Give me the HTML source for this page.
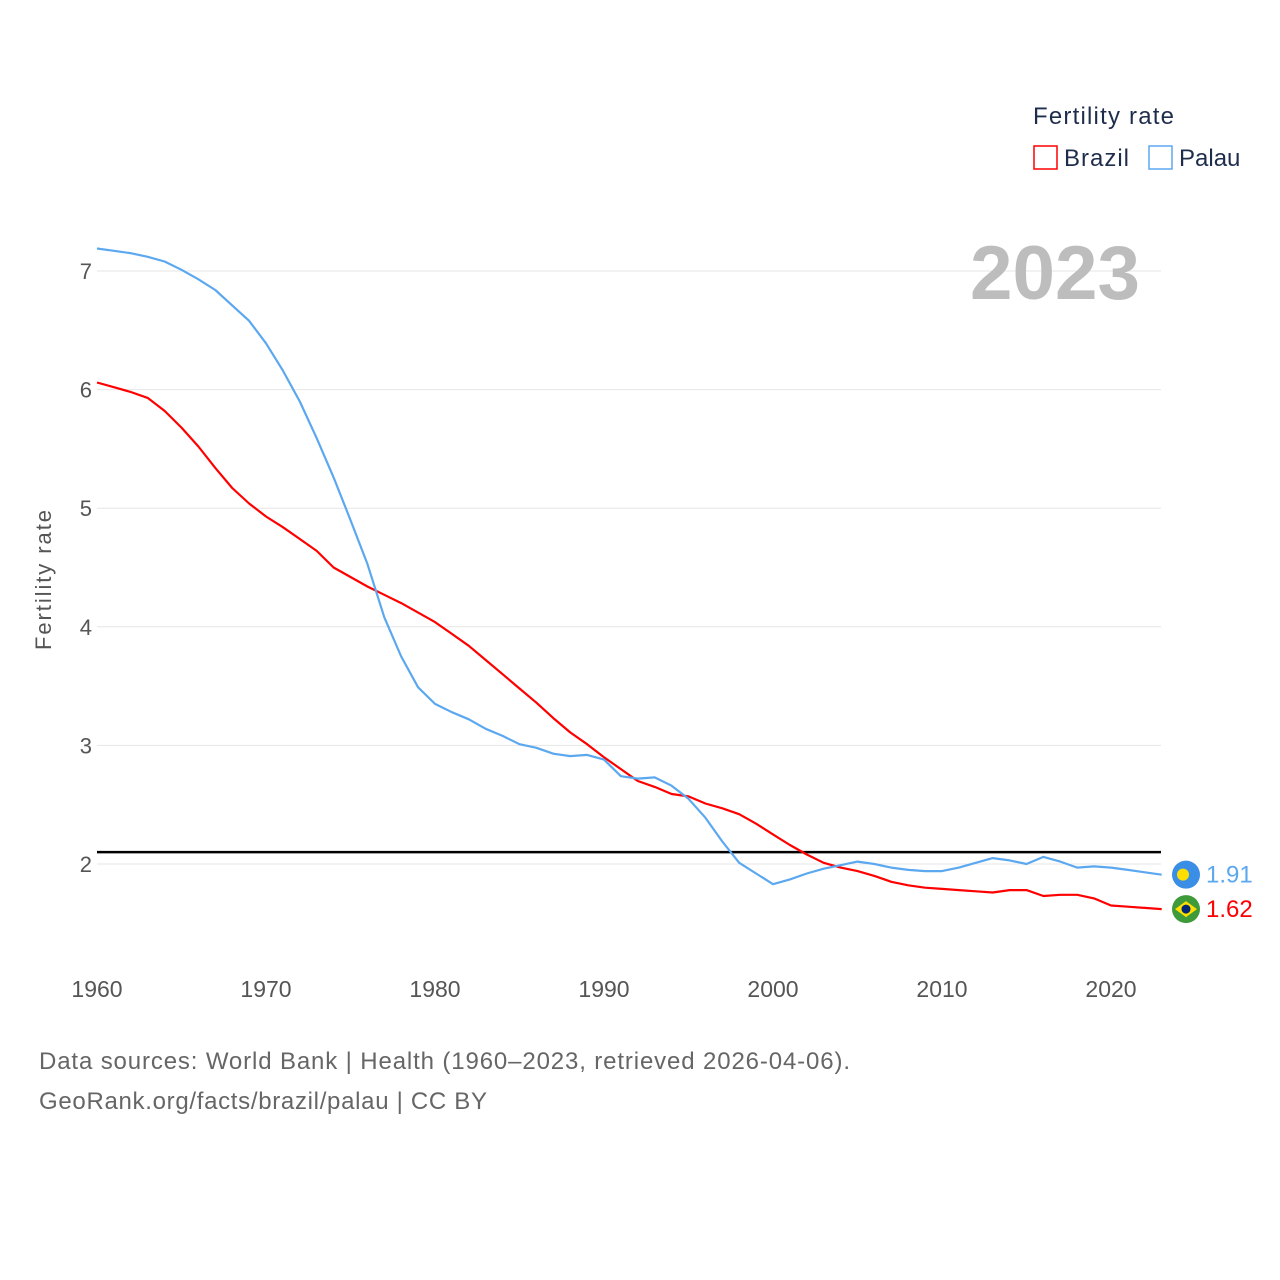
<!DOCTYPE html>
<html><head><meta charset="utf-8">
<style>
body{margin:0;background:#fff;}
svg{display:block;font-family:"Liberation Sans",sans-serif;}
</style></head>
<body>
<svg id="chart" width="1280" height="1280" viewBox="0 0 1280 1280">
<g id="grid"></g>
<text x="1140" y="299" text-anchor="end" font-size="76" font-weight="bold" fill="#bdbdbd" textLength="170" lengthAdjust="spacingAndGlyphs">2023</text>
<g id="series"></g>
<text transform="translate(51,580) rotate(-90)" text-anchor="middle" font-size="22" fill="#555" textLength="140">Fertility rate</text>
<g>
<text x="1033" y="124" font-size="24" fill="#1f2d4d" textLength="141">Fertility rate</text>
<g><rect x="1034" y="146" width="23" height="23" fill="none" stroke="#f00" stroke-width="1.5"/><text x="1064" y="166" font-size="24" fill="#1f2d4d" textLength="65">Brazil</text></g>
<g><rect x="1149" y="146" width="23" height="23" fill="none" stroke="#5ba8f0" stroke-width="1.5"/><text x="1179" y="166" font-size="24" fill="#1f2d4d">Palau</text></g>
</g>
<text x="39" y="1069" font-size="24" fill="#666" textLength="811">Data sources: World Bank | Health (1960–2023, retrieved 2026-04-06).</text>
<text x="39" y="1109" font-size="24" fill="#666" textLength="448">GeoRank.org/facts/brazil/palau | CC BY</text>
</svg>
<script>
const years=[];for(let y=1960;y<=2023;y++)years.push(y);
const brazil=[6.06,6.02,5.98,5.93,5.82,5.68,5.52,5.34,5.17,5.04,4.93,4.84,4.74,4.64,4.50,4.42,4.34,4.27,4.20,4.12,4.04,3.94,3.84,3.72,3.60,3.48,3.36,3.23,3.11,3.01,2.90,2.80,2.70,2.65,2.59,2.57,2.51,2.47,2.42,2.34,2.25,2.16,2.08,2.01,1.97,1.94,1.90,1.85,1.82,1.80,1.79,1.78,1.77,1.76,1.78,1.78,1.73,1.74,1.74,1.71,1.65,1.64,1.63,1.62];
const palau=[7.19,7.17,7.15,7.12,7.08,7.01,6.93,6.84,6.71,6.58,6.39,6.16,5.90,5.59,5.26,4.90,4.53,4.08,3.75,3.49,3.35,3.28,3.22,3.14,3.08,3.01,2.98,2.93,2.91,2.92,2.88,2.74,2.72,2.73,2.66,2.55,2.39,2.19,2.01,1.92,1.83,1.87,1.92,1.96,1.99,2.02,2.00,1.97,1.95,1.94,1.94,1.97,2.01,2.05,2.03,2.00,2.06,2.02,1.97,1.98,1.97,1.95,1.93,1.91];
const yTicks=[2,3,4,5,6,7];
const xTicks=[1960,1970,1980,1990,2000,2010,2020];
const refLine=2.1;
const X=y=>97+(y-1960)*(1111-97)/60;
const Y=v=>864-(v-2)*(864-271)/5;
const NS="http://www.w3.org/2000/svg";
const grid=document.getElementById('grid'),ser=document.getElementById('series');
function mk(tag,attrs,parent,txt){const e=document.createElementNS(NS,tag);for(const k in attrs)e.setAttribute(k,attrs[k]);if(txt!=null)e.textContent=txt;parent.appendChild(e);return e;}
yTicks.forEach(t=>{
 const l=mk('line',{x1:97,x2:1161,y1:Y(t),y2:Y(t),stroke:'#e6e6e6','stroke-width':1},grid);
 
 
 const tx=mk('text',{x:92,y:Y(t)+8,'text-anchor':'end','font-size':22,fill:'#555'},grid,t);
 
 
});
xTicks.forEach(t=>{
 const tx=mk('text',{x:X(t),y:997,'text-anchor':'middle','font-size':23,fill:'#555'},grid,t);
 
 
});
const rl=mk('line',{x1:97,x2:1161,y1:Y(refLine),y2:Y(refLine),stroke:'#000','stroke-width':2.5},ser);


function line(data,color,name){
 const d=data.map((v,i)=>(i?'L':'M')+X(years[i]).toFixed(1)+','+Y(v).toFixed(1)).join('');
 const p=mk('path',{d:d,fill:'none',stroke:color,'stroke-width':2.2,'stroke-linejoin':'round'},ser);
 
 
 const last=data[data.length-1];
 const c=mk('circle',{cx:1186,cy:Y(last),r:14,fill:name==='palau'?'#3a8ee6':'#3f9a3a'},ser);
 
 
 if(name==='palau'){mk('circle',{cx:1183,cy:Y(last),r:6,fill:'#ffde00'},ser);}
 else{mk('polygon',{points:`1175,${Y(last)} 1186,${Y(last)-8} 1197,${Y(last)} 1186,${Y(last)+8}`,fill:'#fedf00'},ser);mk('circle',{cx:1186,cy:Y(last),r:4.5,fill:'#002776'},ser);}
 const t=mk('text',{x:1206,y:Y(last)+8,'font-size':24,fill:color},ser,last.toFixed(2));
 
 
}
line(brazil,'#ff0000','brazil');
line(palau,'#5ba8f0','palau');
</script>
</body></html>
